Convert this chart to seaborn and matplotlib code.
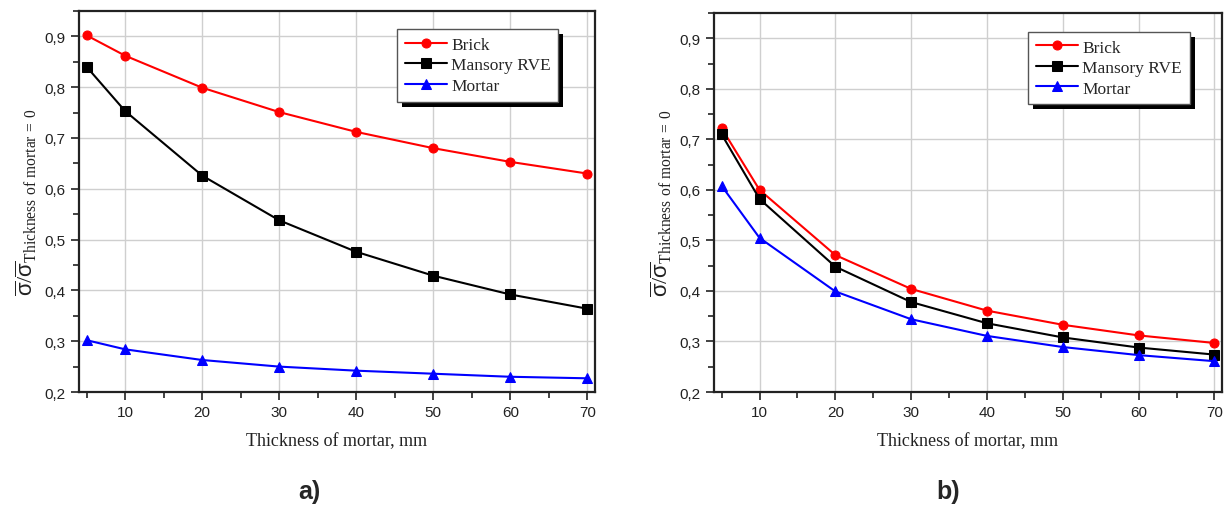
import pandas as pd
import matplotlib
matplotlib.use("Agg")
import matplotlib.pyplot as plt
import seaborn as sns
from matplotlib.ticker import MultipleLocator, FuncFormatter
from matplotlib.patches import Rectangle
from matplotlib.transforms import IdentityTransform

# Data
thickness = [5, 10, 20, 30, 40, 50, 60, 70]

brick_a = [0.902, 0.862, 0.799, 0.751, 0.712, 0.680, 0.653, 0.630]
rve_a = [0.840, 0.753, 0.626, 0.538, 0.476, 0.429, 0.392, 0.364]
mortar_a = [0.302, 0.284, 0.263, 0.250, 0.242, 0.236, 0.230, 0.227]

brick_b = [0.722, 0.600, 0.471, 0.404, 0.361, 0.333, 0.312, 0.297]
rve_b = [0.710, 0.582, 0.448, 0.378, 0.336, 0.308, 0.288, 0.274]
mortar_b = [0.608, 0.505, 0.399, 0.344, 0.311, 0.289, 0.273, 0.261]

series_names = ["Brick", "Mansory RVE", "Mortar"]
colors = ["#ff0000", "#000000", "#0000ff"]
markers = ["o", "s", "^"]

sns.set_style("ticks")
plt.rcParams["font.family"] = ["Liberation Sans", "DejaVu Sans"]
plt.rcParams["mathtext.fontset"] = "custom"
plt.rcParams["mathtext.rm"] = "Liberation Serif"
plt.rcParams["mathtext.it"] = "Liberation Sans"

fig = plt.figure(figsize=(12.26, 5.06), dpi=100)
ax_a = fig.add_axes([0.0644, 0.2233, 0.4209, 0.753])
ax_b = fig.add_axes([0.5824, 0.2233, 0.4144, 0.749])

comma = FuncFormatter(lambda v, p: f"{v:.1f}".replace(".", ","))


def draw_panel(ax, values, legend_anchor):
    df = pd.DataFrame({"x": thickness})
    for name, vals in zip(series_names, values):
        df[name] = vals
    for name, c, m in zip(series_names, colors, markers):
        sns.lineplot(data=df, x="x", y=name, ax=ax, color=c, marker=m,
                     markersize=6.5, markeredgecolor=c, linewidth=1.5, label=name)

    ax.set_xlim(4, 71)
    ax.set_ylim(0.2, 0.95)
    ax.xaxis.set_major_locator(MultipleLocator(10))
    ax.xaxis.set_minor_locator(MultipleLocator(5))
    ax.yaxis.set_major_locator(MultipleLocator(0.1))
    ax.yaxis.set_minor_locator(MultipleLocator(0.05))
    ax.yaxis.set_major_formatter(comma)
    ax.xaxis.set_major_formatter(FuncFormatter(lambda v, p: "" if v < 10 else f"{v:.0f}"))
    ax.grid(True, which="major", color="#cfcfcf", linewidth=1.0)
    ax.tick_params(which="major", direction="out", length=6, width=1.2,
                   labelsize=11, colors="#222222")
    ax.tick_params(which="minor", direction="out", length=4, width=1.2, colors="#222222")
    for s in ax.spines.values():
        s.set_linewidth(1.6)
        s.set_color("#222222")

    ax.set_xlabel("Thickness of mortar, mm", fontfamily="Liberation Serif",
                  fontsize=13, color="#222222", labelpad=9)
    ax.set_ylabel(r"$\overline{\sigma}/\overline{\sigma}_{\mathrm{Thickness\ of\ mortar\,=\,0}}$",
                  fontsize=16, color="#222222", labelpad=4)

    leg = ax.legend(loc="upper right", bbox_to_anchor=legend_anchor, frameon=True,
                    fancybox=False, edgecolor="#555555", framealpha=1,
                    prop={"family": "Liberation Serif", "size": 12.5},
                    handlelength=2.4, handletextpad=0.25, labelspacing=0.25,
                    borderpad=0.45)
    leg.get_frame().set_linewidth(1.0)
    return leg


legends = [draw_panel(ax_a, [brick_a, rve_a, mortar_a], (0.946, 0.976)),
           draw_panel(ax_b, [brick_b, rve_b, mortar_b], (0.953, 0.974))]

# solid black drop shadow behind each legend box
fig.canvas.draw()
for ax, leg in zip([ax_a, ax_b], legends):
    bb = leg.get_frame().get_window_extent()
    shadow = Rectangle((bb.x0 + 5, bb.y0 - 5), bb.width, bb.height,
                       transform=IdentityTransform(), facecolor="black",
                       edgecolor="none", zorder=4.9, clip_on=False)
    ax.add_artist(shadow)

fig.text(0.252, 0.028, "a)", ha="center", va="center", fontsize=18, fontweight="bold")
fig.text(0.773, 0.028, "b)", ha="center", va="center", fontsize=18, fontweight="bold")

fig.savefig("out.png", dpi=100, facecolor="white")
